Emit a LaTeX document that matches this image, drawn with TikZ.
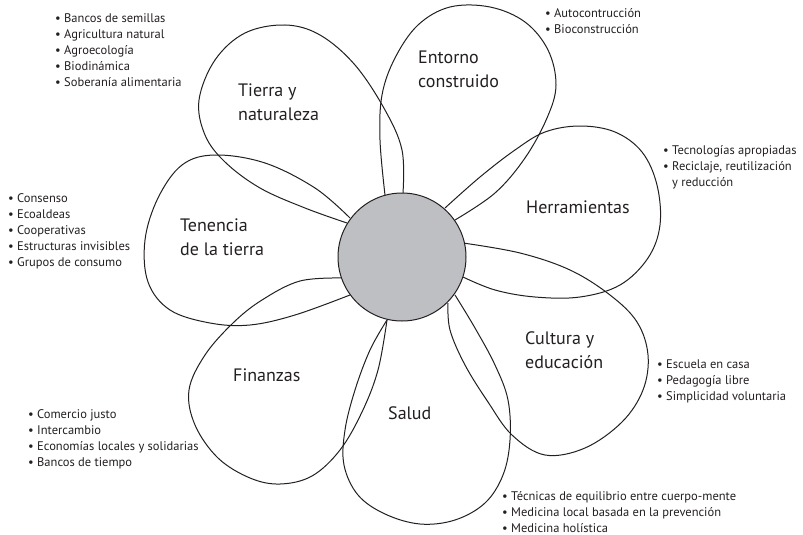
\documentclass[tikz,border=0pt]{standalone}
\usepackage{fontspec}
\setmainfont{PT Sans}
\usetikzlibrary{positioning}

\definecolor{hubgray}{RGB}{190,191,195}
\definecolor{ink}{RGB}{35,31,32}

\begin{document}
\begin{tikzpicture}[x=1pt, y=-1pt,
    petal/.style={draw=ink, line width=1pt},
    hub/.style={circle, fill=hubgray, draw=ink, line width=1pt, minimum size=128pt, inner sep=0pt},
    biglabel/.style={font=\fontsize{18}{24}\selectfont, text=ink, align=left, anchor=west, inner sep=0pt},
    listlabel/.style={font=\fontsize{12.5}{16}\selectfont, text=ink, align=left, anchor=west, inner sep=0pt}
]

    \useasboundingbox (0,0) rectangle (803,535);

    % Petals
    % tierra y naturaleza
    \draw[petal] plot[smooth, tension=0.6] coordinates {(403,193) (402,150) (385,110) (355,65) (320,35) (285,25) (245,33) (215,60) (199,100) (205,135) (225,162) (260,188) (305,208) (347,223)};
    % entorno construido
    \draw[petal] plot[smooth, tension=0.6] coordinates {(385,195) (380,140) (382,95) (395,58) (418,25) (450,7) (490,7) (525,22) (548,50) (556,85) (547,118) (525,158) (495,193) (455,220)};
    % herramientas
    \draw[petal] plot[smooth, tension=0.6] coordinates {(445,208) (480,177) (515,150) (545,132) (580,126) (615,132) (642,152) (657,185) (660,225) (648,258) (620,285) (580,297) (535,297) (495,290) (463,277)};
    % cultura y educacion
    \draw[petal] plot[smooth, tension=0.6] coordinates {(463,243) (520,253) (570,270) (610,295) (637,322) (648,355) (643,390) (622,422) (585,448) (545,455) (512,435) (488,402) (465,365) (450,330) (448,303)};
    % salud
    \draw[petal] plot[smooth, tension=0.6] coordinates {(455,295) (475,328) (495,365) (508,400) (510,440) (503,475) (485,503) (455,520) (420,524) (385,514) (358,495) (344,465) (345,430) (355,390) (370,350) (387,320)};
    % finanzas
    \draw[petal] plot[smooth, tension=0.6] coordinates {(343,278) (300,281) (262,300) (233,323) (205,355) (189,390) (195,425) (218,458) (250,478) (280,484) (312,476) (340,450) (362,412) (378,370) (387,320)};
    % tenencia de la tierra
    \draw[petal] plot[smooth, tension=0.6] coordinates {(350,218) (315,188) (265,163) (215,155) (182,165) (158,198) (145,240) (148,282) (170,310) (210,323) (250,325) (295,315) (350,295)};

    % Centre
    \node[hub] (hub) at (402,257) {};

    % Petal names
    \node[biglabel] (tierra) at (238,102) {Tierra y\\naturaleza};
    \node[biglabel] (entorno) at (418,69) {Entorno\\construido};
    \node[biglabel] (herram) at (526,207) {Herramientas};
    \node[biglabel] (cultura) at (525,350) {Cultura y\\educación};
    \node[biglabel] (salud) at (388,413) {Salud};
    \node[biglabel] (finanzas) at (233,375) {Finanzas};
    \node[biglabel] (tenencia) at (180,237) {Tenencia\\de la tierra};

    % Lists
    \node[listlabel] (l-tierra) at (55,50) {• Bancos de semillas\\• Agricultura natural\\• Agroecología\\• Biodinámica\\• Soberanía alimentaria};
    \node[listlabel] (l-entorno) at (545,21) {• Autocontrucción\\• Bioconstrucción};
    \node[listlabel] (l-herram) at (663,167) {• Tecnologías apropiadas\\• Reciclaje, reutilización\\\hphantom{• }y reducción};
    \node[listlabel] (l-cultura) at (657,381) {• Escuela en casa\\• Pedagogía libre\\• Simplicidad voluntaria};
    \node[listlabel] (l-salud) at (502,512) {• Técnicas de equilibrio entre cuerpo-mente\\• Medicina local basada en la prevención\\• Medicina holística};
    \node[listlabel] (l-finanzas) at (28,439) {• Comercio justo\\• Intercambio\\• Economías locales y solidarias\\• Bancos de tiempo};
    \node[listlabel] (l-tenencia) at (8,231) {• Consenso\\• Ecoaldeas\\• Cooperativas\\• Estructuras invisibles\\• Grupos de consumo};

\end{tikzpicture}
\end{document}
